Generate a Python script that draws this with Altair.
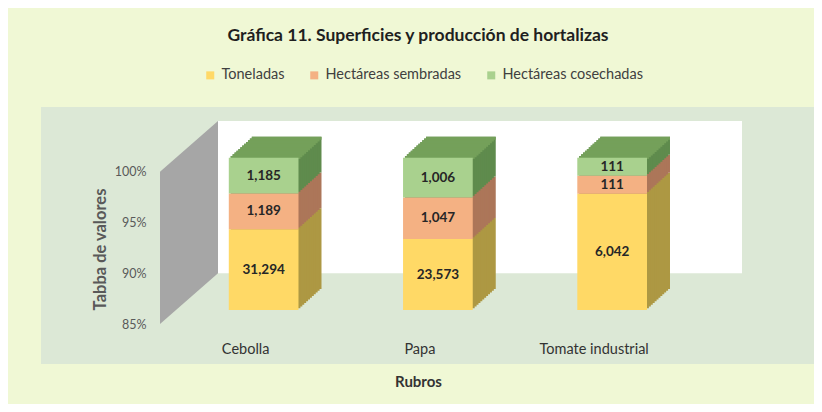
import altair as alt
import pandas as pd

# ---- data ----
rubros = ["Cebolla", "Papa", "Tomate industrial"]
series = ["Toneladas", "Hectáreas sembradas", "Hectáreas cosechadas"]
toneladas = [31294, 23573, 6042]
sembradas = [1189, 1047, 111]
cosechadas = [1185, 1006, 111]
y_ticks = [0.85, 0.90, 0.95, 1.00]

# ---- style ----
FONT = "Lato"
front_colors = ["#FFD966", "#F4B183", "#A9D18E"]
side_colors = ["#AD9843", "#AC7659", "#5F8B4D"]
top_color = "#74A05A"
Y_MIN, Y_MAX = 0.85, 1.05
DEPTH = 0.05          # back wall depth in axis units
DX, DY, FY = 23, -21, -14
N = 12

rows = []
for i, r in enumerate(rubros):
    vals = [toneladas[i], sembradas[i], cosechadas[i]]
    tot = sum(vals)
    cum = 0.0
    for s, v in zip(series, vals):
        lo = cum / tot
        cum += v
        hi = cum / tot
        rows.append({"rubro": r, "serie": s, "valor": v,
                     "lo": max(lo, Y_MIN), "hi": hi})
df = pd.DataFrame(rows)
df["mid"] = (df["lo"] + df["hi"]) / 2

W, H = 582, 203

yscale = alt.Scale(domain=[Y_MIN, Y_MAX], nice=False, zero=False)
y_axis = alt.Axis(values=y_ticks, format=".0%", title="Tabba de valores", grid=False,
                  ticks=False, domain=False, labelPadding=14, labelFontSize=12.5,
                  labelColor="#595959", labelFont=FONT, titleFont=FONT,
                  titleFontSize=16.5, titleFontWeight="bold", titleColor="#595959",
                  titleX=-60, titleY=128, titleAngle=270, titleAlign="center",
                  titleBaseline="middle", zindex=1)
xscale = alt.Scale(domain=rubros, paddingInner=0.6, paddingOuter=0.47, align=0.42)
x_axis = alt.Axis(title="Rubros", labelAngle=0, labelOffset=-18, labelPadding=18,
                  ticks=False, domain=False, labelFontSize=14.5, labelColor="#333333",
                  labelFont=FONT, titleFont=FONT, titleFontSize=15,
                  titleFontWeight="bold", titleColor="#333333", titleX=258, titleY=57,
                  titleAlign="center", titleBaseline="middle", zindex=1)

x_enc = alt.X("rubro:N", scale=xscale, axis=x_axis, sort=rubros)
y_enc = alt.Y("lo:Q", scale=yscale, axis=y_axis)

# plot-area background (decoration)
bg = alt.Chart(alt.Data(values=[{"a": 1}])).mark_rect(color="#DCE8D6").encode(
    x=alt.value(-119), x2=alt.value(654), y=alt.value(-14), y2=alt.value(243))

# side wall and back wall (decoration, in axis units)
wall_df = pd.DataFrame({"px": [0, 58], "lo": [Y_MIN, Y_MIN + DEPTH],
                        "hi": [1.0, 1.0 + DEPTH]})
gray_wall = alt.Chart(wall_df).mark_area(color="#A6A6A6").encode(
    x=alt.X("px:Q", scale=None, axis=None), y=y_enc, y2="hi:Q")
back_df = pd.DataFrame({"lo": [Y_MIN + DEPTH], "hi": [1.0 + DEPTH]})
white_wall = alt.Chart(back_df).mark_rect(color="#FFFFFF").encode(
    x=alt.value(58), x2=alt.value(W), y=y_enc, y2="hi:Q")

base = alt.Chart(df)
depth_layers = []
for k in range(N, 0, -1):
    off_y = FY + DY * k / N
    off_x = DX * k / N
    for s, c in zip(series, side_colors):
        depth_layers.append(
            base.transform_filter(alt.datum.serie == s).mark_bar(
                color=c, xOffset=off_x, x2Offset=off_x,
                yOffset=off_y, y2Offset=off_y).encode(
                x=x_enc, y=y_enc, y2="hi:Q"))

# top face: overlapping thin strips at the top of the upper segment
top_layers = []
for k in range(N, 0, -1):
    off_x = DX * k / N
    top_layers.append(
        base.transform_filter(alt.datum.serie == series[-1]).mark_bar(
            color=top_color, xOffset=off_x, x2Offset=off_x,
            yOffset=FY + DY * k / N, y2Offset=FY + DY * (k - 1) / N + 1.2).encode(
            x=x_enc, y=alt.Y("hi:Q", scale=yscale, axis=y_axis), y2="hi:Q"))

front = base.mark_bar(yOffset=FY, y2Offset=FY).encode(
    x=x_enc, y=y_enc, y2="hi:Q",
    color=alt.Color("serie:N", scale=alt.Scale(domain=series, range=front_colors),
                    legend=alt.Legend(orient="none", legendX=43, legendY=-53,
                                      direction="horizontal", title=None,
                                      symbolType="square", symbolSize=64,
                                      symbolStrokeWidth=0, labelFontSize=14.5,
                                      labelFont=FONT, labelColor="#404040",
                                      columnPadding=22, zindex=1)))

labels = base.mark_text(yOffset=FY, font=FONT, fontSize=13.5, fontWeight="bold",
                        color="#262626", baseline="middle").encode(
    x=x_enc, y=alt.Y("mid:Q", scale=yscale, axis=y_axis),
    text=alt.Text("valor:Q", format=","))

inner = alt.layer(*depth_layers, *top_layers, front, labels)

chart = alt.layer(bg, gray_wall, white_wall, inner).resolve_scale(
    x="independent"
).properties(
    width=W, height=H,
    autosize=alt.AutoSizeParams(type="none"),
    padding={"left": 152, "top": 113, "right": 72, "bottom": 80},
    title=alt.TitleParams("Gráfica 11. Superficies  y producción de hortalizas",
                          font=FONT, fontSize=17.5, fontWeight="bold", color="#1F1F1F",
                          anchor="middle", dx=-33, dy=-20),
).configure(background="#F0F8D5").configure_view(stroke=None)

chart.save("out.html", embed_options={"renderer": "svg", "actions": False})
